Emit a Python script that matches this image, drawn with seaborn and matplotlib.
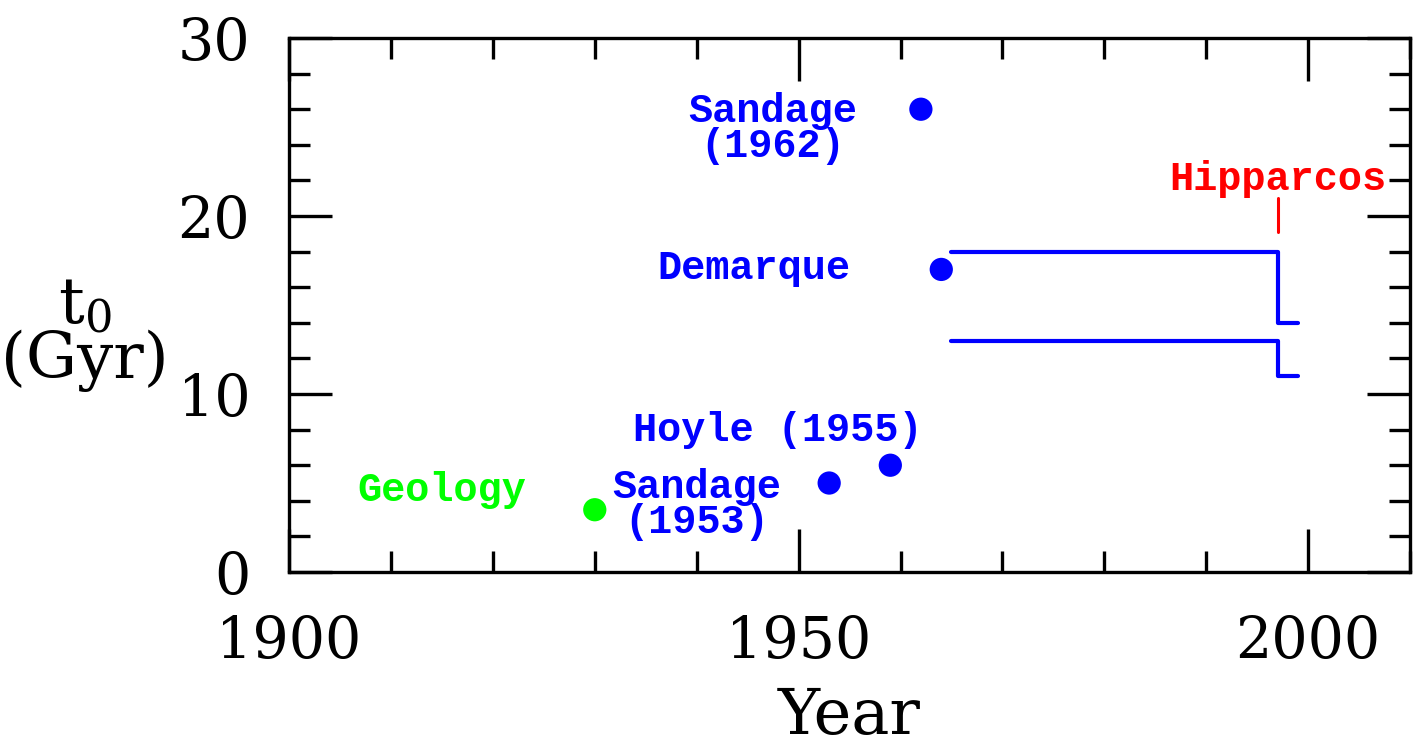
import matplotlib
matplotlib.use('Agg')
import matplotlib.pyplot as plt
from matplotlib.ticker import MultipleLocator
import seaborn as sns
import pandas as pd

# Estimativas de idade do universo ao longo do tempo
anos = [1930, 1953, 1959, 1962, 1964]
idades = [3.5, 5.0, 6.0, 26.0, 17.0]
grupos = ['Geology', 'Sandage (1953)', 'Hoyle (1955)', 'Sandage (1962)', 'Demarque']
cores_pontos = ['#00ff00', '#0000ff', '#0000ff', '#0000ff', '#0000ff']

# Faixas dos aglomerados globulares (antes/depois do Hipparcos)
faixa_anos = [1965, 1997, 1997, 1999]
faixa_sup = [18, 18, 14, 14]
faixa_inf = [13, 13, 11, 11]
hipparcos_ano = [1997, 1997]
hipparcos_y = [19.1, 21.0]

# Rótulos: texto, x, y, cor
rotulos = [
    ('Geology', 1915.0, 4.6, '#00ff00'),
    ('Sandage\n(1953)', 1940.0, 3.8, '#0000ff'),
    ('Hoyle (1955)', 1948.0, 8.0, '#0000ff'),
    ('Sandage\n(1962)', 1947.5, 24.9, '#0000ff'),
    ('Demarque', 1945.6, 17.1, '#0000ff'),
    ('Hipparcos', 1997.0, 22.1, '#ff0000'),
]

sns.set_style('ticks')
plt.rcParams['font.family'] = ['DejaVu Serif']
plt.rcParams['text.color'] = 'black'
plt.rcParams['axes.edgecolor'] = 'black'
plt.rcParams['xtick.color'] = 'black'
plt.rcParams['ytick.color'] = 'black'
plt.rcParams['axes.labelcolor'] = 'black'

fig = plt.figure(figsize=(14.19, 7.5), dpi=100)
ax = fig.add_axes([0.2037, 0.2373, 0.79, 0.712])

df = pd.DataFrame({'Ano': anos, 'Idade': idades, 'Grupo': grupos})
sns.scatterplot(data=df, x='Ano', y='Idade', hue='Grupo',
                palette=dict(zip(grupos, cores_pontos)), s=280,
                edgecolor='none', legend=False, ax=ax, zorder=3)

for ys in (faixa_sup, faixa_inf):
    sns.lineplot(x=faixa_anos, y=ys, sort=False, estimator=None,
                 color='#0000ff', linewidth=3.0, ax=ax)
sns.lineplot(x=hipparcos_ano, y=hipparcos_y, sort=False, estimator=None,
             color='#ff0000', linewidth=2.2, ax=ax)

for texto, x, y, cor in rotulos:
    ax.text(x, y, texto, color=cor, ha='center', va='center',
            family='Liberation Mono', fontweight='bold', fontsize=29,
            linespacing=0.9)

ax.set_xlim(1900, 2010)
ax.set_ylim(0, 30)
ax.xaxis.set_major_locator(MultipleLocator(50))
ax.xaxis.set_minor_locator(MultipleLocator(10))
ax.yaxis.set_major_locator(MultipleLocator(10))
ax.yaxis.set_minor_locator(MultipleLocator(2))
ax.tick_params(which='both', direction='in', top=True, right=True,
               width=2.4, color='black')
ax.tick_params(which='major', length=31, labelsize=41)
ax.tick_params(axis='x', which='major', pad=30)
ax.tick_params(axis='y', which='major', pad=28)
ax.tick_params(which='minor', length=15)
for s in ax.spines.values():
    s.set_linewidth(2.4)
    s.set_visible(True)

ax.set_xlabel('Year', fontsize=46, labelpad=12)
ax.set_ylabel('')
fig.text(0.06, 0.555, r'$\mathregular{t_0}$' + '\n(Gyr)', ha='center', va='center',
         fontsize=46, linespacing=0.85)

fig.savefig('out.png', dpi=100)
